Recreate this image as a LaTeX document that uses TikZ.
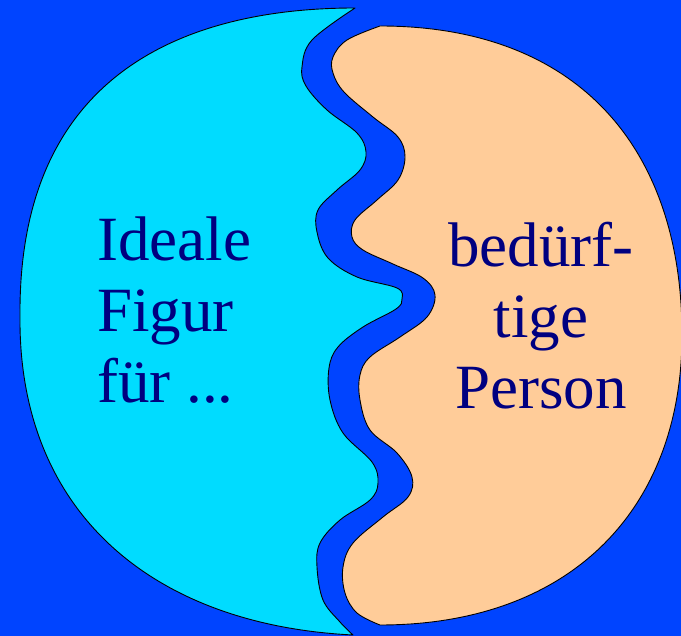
\documentclass[tikz,border=0pt]{standalone}
\usepackage{fontspec}
\setmainfont{Liberation Serif}
\usepackage{tikz}
\usetikzlibrary{positioning}

\definecolor{bgblue}{HTML}{0044FF}
\definecolor{idealcyan}{HTML}{00DCFF}
\definecolor{needpeach}{HTML}{FFCC99}
\definecolor{txtnavy}{HTML}{000080}

\begin{document}
\begin{tikzpicture}[
    x=1pt, y=-1pt,
    halfshape/.style = {draw=black, line width=0.9pt, line join=round},
    lbl/.style       = {text=txtnavy, inner sep=0pt, font=\fontsize{63}{72}\selectfont}
  ]

  % background
  \fill[bgblue] (0,0) rectangle (681,636);
  \useasboundingbox (0,0) rectangle (681,636);

  % left half: ideal figure
  \draw[halfshape, fill=idealcyan]
    (353,635) .. controls (150,625) and (18,510) .. (20,316)
              .. controls (18,70) and (190,8) .. (355,8)
    -- plot[smooth, tension=0.6] coordinates {(355,8) (312,40) (302,67) (306,86) (327,110)
      (357,133) (366,152) (360,170) (337,190) (318,210) (317,232) (328,258) (357,277)
      (397,288) (402,299) (396,309) (363,327) (338,347) (329,368) (330,400) (343,433)
      (372,462) (378,483) (370,500) (340,520) (320,543) (317,567) (323,600) (340,622) (353,635)}
    -- cycle;

  % right half: person in need
  \draw[halfshape, fill=needpeach]
    (380,625) .. controls (570,625) and (682,510) .. (682,335)
              .. controls (682,150) and (580,26) .. (380,26)
    -- plot[smooth, tension=0.6] coordinates {(380,26) (347,40) (333,57) (333,73) (344,92)
      (373,117) (398,137) (405,157) (398,180) (377,200) (355,220) (352,237) (363,250)
      (393,264) (423,278) (435,295) (427,317) (400,337) (370,357) (360,375) (360,400)
      (370,430) (397,453) (412,477) (408,497) (383,517) (353,543) (343,567) (345,593)
      (357,613) (380,625)}
    -- cycle;

  % left text
  \node[lbl, anchor=base west] (ideal1) at (97,261) {Ideale};
  \node[lbl, anchor=base west] (ideal2) at (97,332) {Figur};
  \node[lbl, anchor=base west] (ideal3) at (97,403) {für ...};

  % right text
  \node[lbl, anchor=base] (need1) at (541,267) {bedürf-};
  \node[lbl, anchor=base] (need2) at (541,338) {tige};
  \node[lbl, anchor=base] (need3) at (541,409) {Person};

\end{tikzpicture}
\end{document}
